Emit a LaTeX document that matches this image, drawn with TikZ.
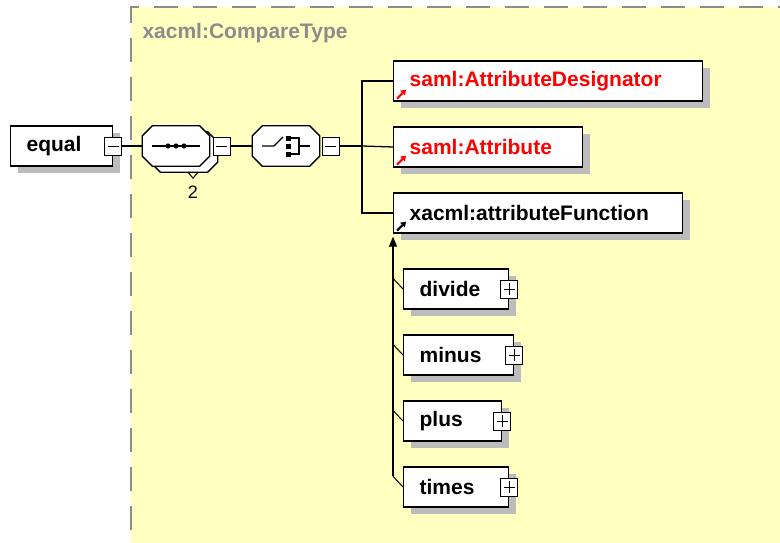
\documentclass[tikz,border=0pt]{standalone}
\usepackage{fontspec}
\setmainfont{Liberation Sans}
\usetikzlibrary{shadows,arrows.meta}
\definecolor{schemayellow}{RGB}{255,255,192}
\definecolor{shadowgray}{RGB}{188,188,188}
\definecolor{bordergray}{RGB}{140,140,140}
\tikzset{
  elem/.style={draw, fill=white, line width=1.3pt, minimum height=40pt,
    text width=#1, inner xsep=0pt, align=left, anchor=west,
    font=\fontsize{21}{25}\selectfont\bfseries,
    execute at begin node={\hspace*{16pt}},
    drop shadow={shadow xshift=7pt, shadow yshift=-7pt, fill=shadowgray, opacity=1}},
  compositor/.style={rectangle, minimum width=67pt, minimum height=40pt, inner sep=0pt},
  togminus/.style={draw, fill=white, line width=1pt, minimum width=17pt, minimum height=18pt, inner sep=0pt,
    path picture={\draw[line width=1pt] ([xshift=3pt]path picture bounding box.west) -- ([xshift=-3pt]path picture bounding box.east);}},
  togplus/.style={togminus, path picture={
      \draw[line width=1pt] ([xshift=3pt]path picture bounding box.west) -- ([xshift=-3pt]path picture bounding box.east);
      \draw[line width=1pt] ([yshift=-3pt]path picture bounding box.north) -- ([yshift=3pt]path picture bounding box.south);}},
  conn/.style={line width=1.3pt},
  refarrow/.style={line width=2pt, -{Triangle[length=5pt,width=6.5pt]}}
}
% octagon outline round a compositor node, #1 = style, #2 = node
\newcommand{\compbox}[2]{
  \path[#1] ([xshift=10pt]#2.north west) -- ([xshift=-10pt]#2.north east)
    -- ([yshift=-10pt]#2.north east) -- ([yshift=10pt]#2.south east)
    -- ([xshift=-10pt]#2.south east) -- ([xshift=10pt]#2.south west)
    -- ([yshift=10pt]#2.south west) -- ([yshift=-10pt]#2.north west) -- cycle;
}
\begin{document}
\begin{tikzpicture}[x=1pt,y=-1pt]
  \useasboundingbox (0,0) rectangle (780,543);
  \fill[schemayellow] (131,7) rectangle (780,543);
  \draw[bordergray, line width=1.5pt, dash pattern=on 24pt off 15pt] (131,530) -- (131,7) -- (780,7);
  \node[anchor=west, text=bordergray, font=\fontsize{21}{25}\selectfont\bfseries] (ctype) at (139,33) {xacml:CompareType};

  \node[elem=102] (equal) at (10,146) {equal};
  \node[togminus] (equaltog) at (equal.east) {};

  \node[compositor] (seqback) at (184,152) {};
  \node[compositor] (seq) at (176,146) {};
  \compbox{fill=shadowgray, shift={(7,7)}}{seqback}
  \compbox{draw, fill=white, line width=1.3pt}{seqback}
  \compbox{draw, fill=white, line width=1.3pt}{seq}
  \draw[conn] ([xshift=10pt]seq.west) -- ([xshift=-10pt]seq.east);
  \foreach \d in {-8,0,8}
    \fill ([xshift=\d pt]seq.center) circle (2.6pt);
  \draw[line width=1pt] ([shift={(4,0)}]seqback.south) -- ([shift={(9,6)}]seqback.south) -- ([shift={(14,0)}]seqback.south);
  \node[font=\fontsize{18}{20}\selectfont] (seqmult) at (193,192) {2};
  \node[togminus] (seqtog) at ([xshift=12pt]seq.east) {};

  \node[compositor] (choice) at (286,146) {};
  \compbox{fill=shadowgray, shift={(7,7)}}{choice}
  \compbox{draw, fill=white, line width=1.3pt}{choice}
  \draw[conn] ([shift={(-24,0)}]choice.center) -- ([shift={(-12,0)}]choice.center) -- ([shift={(-3,-9)}]choice.center);
  \foreach \d in {-8,0,8}
    \fill ([shift={(0,\d)}]choice.center) +(0,-2.5) rectangle +(5,2.5);
  \draw[conn] ([shift={(5,-8)}]choice.center) -- ([shift={(13,-8)}]choice.center) -- ([shift={(13,8)}]choice.center) -- ([shift={(5,8)}]choice.center);
  \draw[conn] ([shift={(13,0)}]choice.center) -- ([shift={(24,0)}]choice.center);
  \node[togminus] (choicetog) at ([xshift=11pt]choice.east) {};

  \draw[conn] (equaltog) -- (seq);
  \draw[conn] (seqtog) -- (choice);

  \node[elem=309, text=red] (adesig) at (393,81) {saml:AttributeDesignator};
  \node[elem=189, text=red] (attr) at (393,147) {saml:Attribute};
  \node[elem=289] (afunc) at (393,213) {xacml:attributeFunction};
  \draw[refarrow, red] ([shift={(4,-3)}]adesig.south west) -- ++(9,-9);
  \draw[refarrow, red] ([shift={(4,-3)}]attr.south west) -- ++(9,-9);
  \draw[refarrow] ([shift={(4,-3)}]afunc.south west) -- ++(9,-9);

  \coordinate (bus) at (362,146);
  \draw[conn] (choicetog) -- (bus);
  \draw[conn] (adesig.west) -| (bus) |- (afunc.west);
  \draw[conn] (bus) -- (attr.west);

  \node[elem=105] (fdivide) at (403,289) {divide};
  \node[elem=110] (fminus) at (403,355) {minus};
  \node[elem=98] (fplus) at (403,421) {plus};
  \node[elem=105] (ftimes) at (403,487) {times};
  \foreach \f in {fdivide,fminus,fplus,ftimes} {
    \node[togplus] (\f tog) at (\f.east) {};
    \draw[line width=1pt] ([yshift=-10pt]afunc.south west |- \f.north) -- (\f.west);
  }
  \coordinate (sgend) at ([yshift=-10pt]afunc.south west |- ftimes.north);
  \draw[conn, -{Triangle[length=10pt,width=8pt]}] (sgend) -- ([yshift=-3pt]afunc.south west);
\end{tikzpicture}
\end{document}
